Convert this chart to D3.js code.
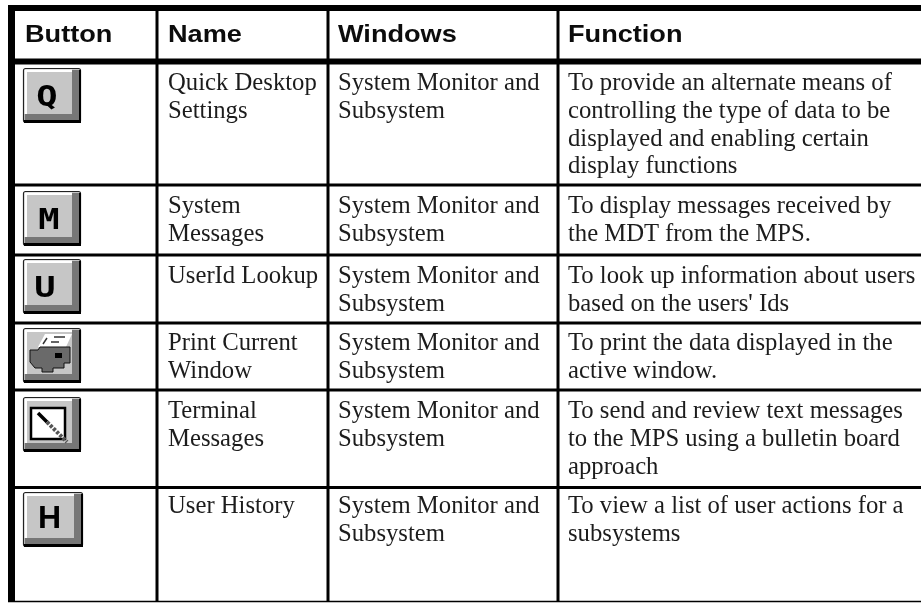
<!DOCTYPE html>
<html><head><meta charset="utf-8"><script src="https://cdn.jsdelivr.net/npm/d3@7/dist/d3.min.js"></script>
<style>html,body{margin:0;background:#fff}svg{display:block;filter:blur(.45px)}</style></head><body><svg id="c" width="921" height="603"></svg>
<script>
const headers=["Button","Name","Windows","Function"];
const buttonIds=["Q","M","U","print","terminal","H"];
const names=[["Quick Desktop","Settings"],["System","Messages"],["UserId Lookup"],["Print Current","Window"],["Terminal","Messages"],["User History"]];
const windowsCol=["System Monitor and","Subsystem"];
const functions=[
["To provide an alternate means of","controlling the type of data to be","displayed and enabling certain","display functions"],
["To display messages received by","the MDT from the MPS."],
["To look up information about users","based on the users' Ids"],
["To print the data displayed in the","active window."],
["To send and review text messages","to the MPS using a bulletin board","approach"],
["To view a list of user actions for a","subsystems"]];
const colEdges=[11.5,157,328,558];
const rowEdges=[8,61.5,185,255,323,390,487.5,601.5];
const baselines=[90,213,283,350,418,513];
const buttonTops=[68,191,259,328,397,492];
const svg=d3.select("#c");
const ink="#000",textInk="#1c1c1c";
svg.selectAll("line.h").data(rowEdges).join("line").attr("x1",8).attr("x2",921)
 .attr("y1",d=>d).attr("y2",d=>d).attr("stroke",ink).attr("stroke-width",(d,i)=>i<2?6:i===7?1.5:3);
svg.append("g").selectAll("line").data(colEdges).join("line").attr("y1",5).attr("y2",602)
 .attr("x1",d=>d).attr("x2",d=>d).attr("stroke",ink).attr("stroke-width",(d,i)=>i===0?7:3);
const serif="'Liberation Serif','Times New Roman',serif";
const sans="'Liberation Sans',Arial,sans-serif";
const hx=[25,168,338,568];
svg.append("g").selectAll("text").data(headers).join("text")
 .attr("transform",(d,i)=>`translate(${hx[i]},42) scale(1.18,1)`)
 .attr("font-family",sans).attr("font-weight",700).attr("font-size",23).attr("fill","#0c0c0c").text(d=>d);
const lh=27.8;
function col(lines,x,row){
 svg.append("g").selectAll("text").data(lines).join("text").attr("x",x).attr("y",(d,i)=>baselines[row]+i*lh)
 .attr("font-family",serif).attr("font-size",24.7).attr("fill",textInk).text(d=>d);
}
buttonIds.forEach((b,r)=>{
 col(names[r],168,r); col(windowsCol,338,r); col(functions[r],568,r);
 const w=b==="H"?60:58,h=55;
 const g=svg.append("g").attr("transform",`translate(23,${buttonTops[r]})`);
 g.append("rect").attr("x",.5).attr("y",.5).attr("width",w-1).attr("height",h-1).attr("rx",2).attr("fill","#c6c6c6").attr("stroke","#222").attr("stroke-width",1.2);
 g.append("path").attr("d",`M${w-2} 2V${h-3}H2V${h-9}H${w-9}V2Z`).attr("fill","#777");
 g.append("rect").attr("x",1).attr("y",h-3).attr("width",w-1).attr("height",3).attr("fill","#000");
 g.append("rect").attr("x",w-2).attr("y",2).attr("width",2).attr("height",h-2).attr("fill","#000");
 g.append("path").attr("d",`M1.5 ${h-9}V1.5H${w-9}V4H4V${h-9}Z`).attr("fill","#fff");
 if(b.length===1){
  const tx={Q:24,M:26,U:22,H:26.5}[b], ty={Q:38,M:38,U:38,H:36}[b];
  g.append("text").attr("transform",`translate(${tx},${ty}) scale(${b==="H"?1:1.22},1)`).attr("text-anchor","middle")
   .attr("font-family",b==="H"?sans:"'DejaVu Sans Mono',monospace")
   .attr("font-weight",700).attr("font-size",b==="H"?32:29).attr("fill","#000").text(b);
 } else if(b==="print"){
  g.append("path").attr("d","M22 6H49L43 19H15Z").attr("fill","#fff");
  g.append("path").attr("d","M24 10L20 16M31 9H42M28 14H36").attr("stroke","#333").attr("stroke-width",1.5).attr("fill","none");
  g.append("path").attr("d","M7 22H15L17 19H47V35H41V40H30V44H19V40H12L7 34Z").attr("fill","#6a6a6a").attr("stroke","#111").attr("stroke-width",1);
  g.append("rect").attr("x",32).attr("y",25).attr("width",7).attr("height",5).attr("fill","#000");
 } else {
  g.append("rect").attr("x",8).attr("y",11).attr("width",34).attr("height",31).attr("fill","#fff").attr("stroke","#000").attr("stroke-width",2.5);
  g.append("path").attr("d","M15 16L24 25").attr("stroke","#000").attr("stroke-width",3.5);
  g.append("path").attr("d","M24 25L44 45").attr("stroke","#555").attr("stroke-width",4).attr("stroke-dasharray","3 1.5");
 }
});
</script></body></html>
